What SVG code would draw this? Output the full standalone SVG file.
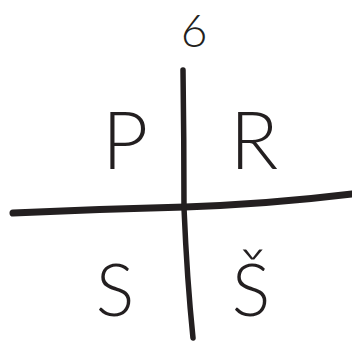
<svg xmlns="http://www.w3.org/2000/svg" width="352" height="345" viewBox="0 0 352 345">
<style>
.t{font-family:Lato,"Liberation Sans",sans-serif;font-weight:300;fill:#231f20;text-anchor:middle}
.ln{fill:none;stroke:#231f20;stroke-linecap:round}
</style>
<rect width="352" height="345" fill="#fff"/>
<g id="connectors">
<path class="ln" stroke-width="7" d="M13,213 Q100,209 185,207 Q270,204 352,194"/>
<path class="ln" stroke-width="5.5" d="M183,70 Q184,140 184,208 Q187,280 193,338"/>
</g>
<g id="n6"><text class="t" x="194" y="47" font-size="46">6</text></g>
<g id="nP"><text class="t" x="125" y="169" font-size="80">P</text></g>
<g id="nR"><text class="t" x="254" y="169" font-size="80">R</text></g>
<g id="nS"><text class="t" x="115" y="316" font-size="72">S</text></g>
<g id="nSh"><text class="t" x="251" y="316" font-size="72">Š</text></g>
</svg>
